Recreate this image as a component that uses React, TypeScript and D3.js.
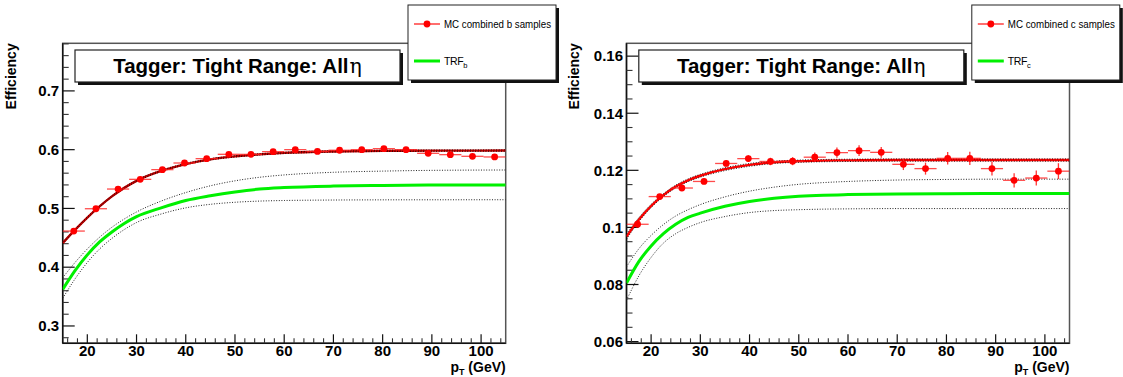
import React from 'react';
import * as d3 from 'd3';

// ---------- data ----------
const ptBinCenters = [17.25, 21.75, 26.25, 30.75, 35.25, 39.75, 44.25, 48.75, 53.25, 57.75, 62.25, 66.75, 71.25, 75.75, 80.25, 84.75, 89.25, 93.75, 98.25, 102.75];
const ptBinHalfWidth = 2.25;

const bEff = [0.4615, 0.4995, 0.533, 0.5495, 0.566, 0.5773, 0.5847, 0.5921, 0.592, 0.5966, 0.600, 0.597, 0.599, 0.600, 0.6017, 0.600, 0.5938, 0.5915, 0.5887, 0.5876];
const bErr = [0.0015, 0.0014, 0.0013, 0.0013, 0.0013, 0.0013, 0.0013, 0.0014, 0.0014, 0.0015, 0.0015, 0.0016, 0.0017, 0.0018, 0.0019, 0.002, 0.0021, 0.0022, 0.0023, 0.0025];
const cEff = [0.1011, 0.1108, 0.1138, 0.1161, 0.1224, 0.1241, 0.1231, 0.1232, 0.1246, 0.1262, 0.1269, 0.1263, 0.1221, 0.1206, 0.1242, 0.1242, 0.1206, 0.1165, 0.1173, 0.1197];
const cErr = [0.0008, 0.0009, 0.001, 0.001, 0.0011, 0.0012, 0.0013, 0.0014, 0.0016, 0.0018, 0.0019, 0.0019, 0.002, 0.0021, 0.0022, 0.0023, 0.0024, 0.0025, 0.0026, 0.0028];

const curvePt = [15, 17.5, 20, 22.5, 25, 27.5, 30, 35, 40, 45, 50, 55, 60, 70, 80, 90, 105];

const bFit = [0.441, 0.4635, 0.4845, 0.5035, 0.5205, 0.535, 0.547, 0.5638, 0.5755, 0.5835, 0.5885, 0.592, 0.5945, 0.597, 0.598, 0.5983, 0.5985];
const bFitUp = [0.4425, 0.4648, 0.4857, 0.5047, 0.5217, 0.5362, 0.5482, 0.565, 0.5767, 0.5847, 0.5897, 0.5932, 0.5957, 0.5982, 0.5992, 0.5995, 0.5997];
const bFitLo = [0.4395, 0.4622, 0.4833, 0.5023, 0.5193, 0.5338, 0.5458, 0.5626, 0.5743, 0.5823, 0.5873, 0.5908, 0.5933, 0.5958, 0.5968, 0.5971, 0.5973];
const bTrf = [0.362, 0.394, 0.421, 0.443, 0.46, 0.4745, 0.486, 0.501, 0.5135, 0.5215, 0.528, 0.533, 0.5355, 0.538, 0.539, 0.5398, 0.54];
const bTrfUp = [0.382, 0.408, 0.431, 0.451, 0.468, 0.482, 0.494, 0.5125, 0.527, 0.5385, 0.547, 0.553, 0.557, 0.5615, 0.5635, 0.5648, 0.5654];
const bTrfLo = [0.347, 0.38, 0.408, 0.431, 0.449, 0.464, 0.476, 0.4905, 0.501, 0.507, 0.5105, 0.5125, 0.5135, 0.5143, 0.5146, 0.5147, 0.5148];

const cFit = [0.0968, 0.1027, 0.1075, 0.1113, 0.1143, 0.1165, 0.1181, 0.1204, 0.1219, 0.1228, 0.1232, 0.1234, 0.1235, 0.1236, 0.1236, 0.1236, 0.1236];
const cFitUp = [0.0977, 0.1034, 0.1081, 0.1118, 0.1148, 0.117, 0.1186, 0.1209, 0.1224, 0.1232, 0.1236, 0.1238, 0.1239, 0.124, 0.124, 0.124, 0.124];
const cFitLo = [0.0959, 0.102, 0.1069, 0.1108, 0.1138, 0.116, 0.1176, 0.1199, 0.1214, 0.1224, 0.1228, 0.123, 0.1231, 0.1232, 0.1232, 0.1232, 0.1232];
const cTrf = [0.0805, 0.088, 0.0935, 0.0978, 0.1011, 0.1035, 0.105, 0.1074, 0.1091, 0.1102, 0.1109, 0.1113, 0.1115, 0.1117, 0.1118, 0.1119, 0.1119];
const cTrfUp = [0.0862, 0.0925, 0.0972, 0.101, 0.104, 0.1062, 0.108, 0.1107, 0.1127, 0.1141, 0.1151, 0.1157, 0.1161, 0.1166, 0.1168, 0.1169, 0.1169];
const cTrfLo = [0.0745, 0.083, 0.0895, 0.0945, 0.0978, 0.1, 0.1017, 0.1038, 0.1052, 0.1059, 0.1062, 0.1064, 0.1065, 0.1066, 0.1066, 0.1066, 0.1066];

const xDomain = [15, 105];
const xMajorTicks = [20, 30, 40, 50, 60, 70, 80, 90, 100];
const xTickLabels = ['20', '30', '40', '50', '60', '70', '80', '90', '100'];

const bYDomain = [0.2705, 0.781];
const bYMajor = [0.3, 0.4, 0.5, 0.6, 0.7];
const bYLabels = ['0.3', '0.4', '0.5', '0.6', '0.7'];
const cYDomain = [0.0594, 0.1645];
const cYMajor = [0.06, 0.08, 0.1, 0.12, 0.14, 0.16];
const cYLabels = ['0.06', '0.08', '0.1', '0.12', '0.14', '0.16'];

const titleText = 'Tagger: Tight Range: All';
const legendB = 'MC combined b samples';
const legendC = 'MC combined c samples';

// ---------- layout ----------
const FX0 = 62.7, FX1 = 505.7, FY0 = 43.3, FY1 = 343.3;
const FONT = '"Liberation Sans", Arial, Helvetica, sans-serif';

function Panel(props: any) {
  const { off, id, yDomain, yMajor, yLabels, yMinorStep, eff, err, fit, fitUp, fitLo, fitColor, trf, trfUp, trfLo, legendText, sub } = props;
  const x = d3.scaleLinear().domain(xDomain).range([off + FX0, off + FX1]);
  const y = d3.scaleLinear().domain(yDomain).range([FY1, FY0]);
  const line = (vals: number[]) =>
    d3.line<number>().x((_, i) => x(curvePt[i])).y((v) => y(v)).curve(d3.curveMonotoneX)(vals) || '';

  const yMinor = d3.range(Math.ceil(yDomain[0] / yMinorStep - 1e-6) * yMinorStep, yDomain[1], yMinorStep)
    .filter((v) => !yMajor.some((m: number) => Math.abs(m - v) < yMinorStep / 10));
  const xMinor = d3.range(16, 105, 2).filter((v) => v % 10 !== 0);

  const clipId = 'clip' + id;
  const lx = off + 408, ly = 5, lw = 148, lh = 75;
  const tx = off + 75, ty = 50, tw = 325, th = 32;

  return (
    <g>
      <defs>
        <clipPath id={clipId}>
          <rect x={off + FX0} y={FY0} width={FX1 - FX0} height={FY1 - FY0} />
        </clipPath>
      </defs>
      {/* frame */}
      <rect x={off + FX0} y={FY0} width={FX1 - FX0} height={FY1 - FY0} fill="white" stroke="#555" strokeWidth={1.5} />
      <line x1={off + FX0} x2={off + FX0} y1={FY0} y2={FY1} stroke="#111" strokeWidth={1.5} />
      <line x1={off + FX0} x2={off + FX1} y1={FY1} y2={FY1} stroke="#111" strokeWidth={1.5} />
      {/* y ticks */}
      {yMajor.map((v: number, i: number) => (
        <g key={'ym' + i}>
          <line x1={off + FX0} x2={off + FX0 + 12} y1={y(v)} y2={y(v)} stroke="#111" strokeWidth={1.2} />
          <text x={off + FX0 - 3.5} y={y(v) + 5.3} textAnchor="end" fontFamily={FONT} fontWeight="bold" fontSize={15} fill="#000">
            {yLabels[i]}
          </text>
        </g>
      ))}
      {yMinor.map((v: number, i: number) => (
        <line key={'yn' + i} x1={off + FX0} x2={off + FX0 + 6} y1={y(v)} y2={y(v)} stroke="#333" strokeWidth={1.1} />
      ))}
      {/* x ticks */}
      {xMajorTicks.map((v, i) => (
        <g key={'xm' + i}>
          <line x1={x(v)} x2={x(v)} y1={FY1} y2={FY1 - 9} stroke="#111" strokeWidth={1.2} />
          <text x={x(v)} y={356} textAnchor="middle" fontFamily={FONT} fontWeight="bold" fontSize={15} fill="#000">
            {xTickLabels[i]}
          </text>
        </g>
      ))}
      {xMinor.map((v, i) => (
        <line key={'xn' + i} x1={x(v)} x2={x(v)} y1={FY1} y2={FY1 - 5} stroke="#333" strokeWidth={1.1} />
      ))}
      {/* axis titles */}
      <text transform={`translate(${off + 15.5},${FY0}) rotate(-90)`} textAnchor="end" fontFamily={FONT} fontWeight="bold" fontSize={14} fill="#000">
        Efficiency
      </text>
      <text x={off + FX1} y={372} textAnchor="end" fontFamily={FONT} fontWeight="bold" fontSize={14} fill="#000">
        p<tspan fontSize={9} dy={2.5}>T</tspan><tspan dy={-2.5}> (GeV)</tspan>
      </text>
      {/* curves */}
      <g clipPath={`url(#${clipId})`}>
        <path d={line(trf)} fill="none" stroke="#00f000" strokeWidth={3} />
        <path d={line(trfUp)} fill="none" stroke="#222" strokeWidth={1} strokeDasharray="1,1.6" />
        <path d={line(trfLo)} fill="none" stroke="#222" strokeWidth={1} strokeDasharray="1,1.6" />
        <path d={line(fit)} fill="none" stroke={fitColor} strokeWidth={2.4} />
        <path d={line(fitUp)} fill="none" stroke="#000" strokeWidth={1} strokeDasharray="1,1.6" opacity={0.85} />
        <path d={line(fitLo)} fill="none" stroke="#000" strokeWidth={1} strokeDasharray="1,1.6" opacity={0.85} />
        {/* data points */}
        {ptBinCenters.map((p, i) => (
          <g key={'pt' + i}>
            <line x1={x(p - ptBinHalfWidth)} x2={x(p + ptBinHalfWidth)} y1={y(eff[i])} y2={y(eff[i])} stroke="#ff2020" strokeWidth={1.3} opacity={0.8} />
            <line x1={x(p)} x2={x(p)} y1={y(eff[i] - err[i])} y2={y(eff[i] + err[i])} stroke="#ff2020" strokeWidth={1.3} opacity={0.9} />
            <circle cx={x(p)} cy={y(eff[i])} r={3.4} fill="#ff0000" />
          </g>
        ))}
      </g>
      {/* title box */}
      <rect x={tx + 3} y={ty + 3} width={tw} height={th} fill="#111" />
      <rect x={tx} y={ty} width={tw} height={th} fill="white" stroke="#222" strokeWidth={1.2} />
      <text x={tx + tw / 2} y={ty + 23} textAnchor="middle" fontFamily={FONT} fontWeight="bold" fontSize={20.5} fill="#000">
        {titleText}<tspan fontWeight="normal" fontFamily='"DejaVu Serif", serif' dx={1}>η</tspan>
      </text>
      {/* legend */}
      <rect x={lx + 3} y={ly + 3} width={lw} height={lh} fill="#111" />
      <rect x={lx} y={ly} width={lw} height={lh} fill="white" stroke="#222" strokeWidth={1} />
      <line x1={lx + 6} x2={lx + 32} y1={24} y2={24} stroke="#ff2020" strokeWidth={1.3} />
      <circle cx={lx + 19} cy={24} r={3.4} fill="#ff0000" />
      <text x={lx + 36} y={27.5} fontFamily={FONT} fontSize={10.5} textLength={107} lengthAdjust="spacingAndGlyphs" fill="#000">
        {legendText}
      </text>
      <line x1={lx + 6} x2={lx + 32} y1={61} y2={61} stroke="#00f000" strokeWidth={3} />
      <text x={lx + 36} y={64.5} fontFamily={FONT} fontSize={10.5} fill="#000" letterSpacing={-0.4}>
        TRF<tspan fontSize={7.5} dy={3}>{sub}</tspan>
      </text>
    </g>
  );
}

export default function App() {
  return (
    <svg width={1123} height={377} style={{ position: 'absolute', left: 0, top: 0, background: 'white' }}>
      <rect x={0} y={0} width={1123} height={377} fill="white" />
      <Panel off={0} id="b" yDomain={bYDomain} yMajor={bYMajor} yLabels={bYLabels} yMinorStep={0.02}
        eff={bEff} err={bErr} fit={bFit} fitUp={bFitUp} fitLo={bFitLo} fitColor="#cc0000" trf={bTrf} trfUp={bTrfUp} trfLo={bTrfLo}
        legendText={legendB} sub="b" />
      <Panel off={563.8} id="c" yDomain={cYDomain} yMajor={cYMajor} yLabels={cYLabels} yMinorStep={0.005}
        eff={cEff} err={cErr} fit={cFit} fitUp={cFitUp} fitLo={cFitLo} fitColor="#ff0000" trf={cTrf} trfUp={cTrfUp} trfLo={cTrfLo}
        legendText={legendC} sub="c" />
    </svg>
  );
}
